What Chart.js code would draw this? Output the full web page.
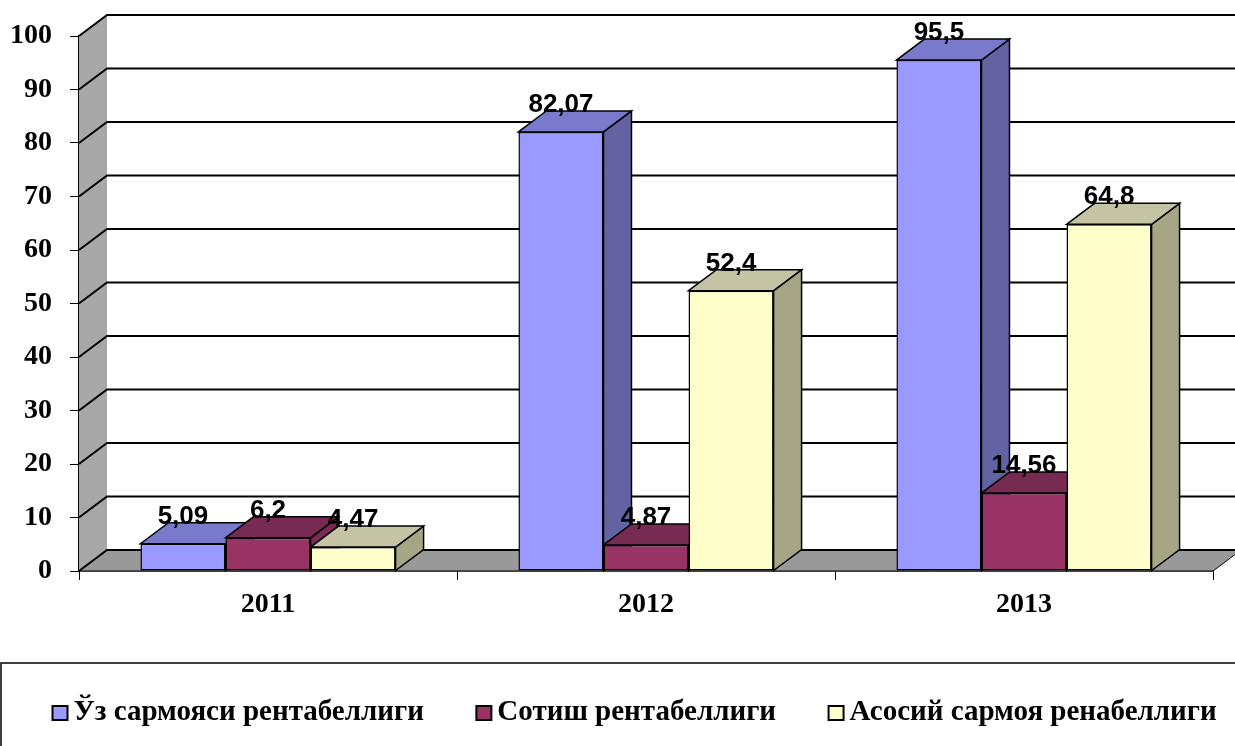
<!DOCTYPE html>
<html>
<head>
<meta charset="utf-8">
<script src="https://cdn.jsdelivr.net/npm/chart.js@4"></script>
<style>
  body { margin: 0; background: #fff; }
  canvas { display: block; }
</style>
</head>
<body>
<canvas id="rentChart" width="1235" height="746"></canvas>
<script>
const years = ["2011", "2012", "2013"];
const ownCapital = [5.09, 82.07, 95.5];
const sales = [6.2, 4.87, 14.56];
const fixedCapital = [4.47, 52.4, 64.8];
const seriesNames = ["Ўз сармояси рентабеллиги", "Сотиш рентабеллиги", "Асосий сармоя ренабеллиги"];

const frontColors = ["#9999ff", "#993366", "#ffffcc"];
const topColors = ["#7a7acc", "#772a52", "#c4c4a4"];
const sideColors = ["#6363a3", "#772a52", "#a6a686"];

const DX = 28, DY = -21;

// legend marker: small square drawn on the right of a wider image,
// so it sits close to the text
function legendMarker(color) {
  const c = document.createElement("canvas");
  c.width = 64; c.height = 16;
  const g = c.getContext("2d");
  g.fillStyle = color;
  g.strokeStyle = "#000";
  g.lineWidth = 2;
  g.fillRect(46, 1, 15, 14);
  g.strokeRect(46, 1, 15, 14);
  return c;
}

// fake 3d: walls, floor, back gridlines and bar sides drawn under the bar fronts
const depthPlugin = {
  id: "depth",
  beforeDatasetsDraw(chart) {
    const ctx = chart.ctx;
    const area = chart.chartArea;
    const y = chart.scales.y;
    const L = area.left, R = area.right, B = area.bottom, T = area.top;
    ctx.save();
    ctx.fillStyle = "#a8a8a8";
    ctx.beginPath();
    ctx.moveTo(L, B); ctx.lineTo(L, T); ctx.lineTo(L + DX, T + DY); ctx.lineTo(L + DX, B + DY);
    ctx.closePath(); ctx.fill();
    ctx.fillStyle = "#999999";
    ctx.strokeStyle = "#000";
    ctx.lineWidth = 1;
    ctx.beginPath();
    ctx.moveTo(L, B); ctx.lineTo(L + DX, B + DY); ctx.lineTo(R + DX, B + DY); ctx.lineTo(R, B);
    ctx.closePath(); ctx.fill(); ctx.stroke();
    ctx.lineWidth = 2;
    y.ticks.forEach(t => {
      const py = y.getPixelForValue(t.value);
      ctx.beginPath();
      ctx.moveTo(L, py); ctx.lineTo(L + DX, py + DY); ctx.lineTo(chart.width, py + DY);
      ctx.stroke();
    });
    ctx.lineWidth = 1.5;
    chart.data.datasets.forEach((ds, i) => {
      chart.getDatasetMeta(i).data.forEach(bar => {
        const l = bar.x - bar.width / 2, r = bar.x + bar.width / 2;
        const top = bar.y, bot = bar.base;
        ctx.fillStyle = sideColors[i];
        ctx.beginPath();
        ctx.moveTo(r, top); ctx.lineTo(r + DX, top + DY); ctx.lineTo(r + DX, bot + DY); ctx.lineTo(r, bot);
        ctx.closePath(); ctx.fill(); ctx.stroke();
        ctx.fillStyle = topColors[i];
        ctx.beginPath();
        ctx.moveTo(l, top); ctx.lineTo(l + DX, top + DY); ctx.lineTo(r + DX, top + DY); ctx.lineTo(r, top);
        ctx.closePath(); ctx.fill(); ctx.stroke();
      });
    });
    ctx.restore();
  },
  afterDatasetsDraw(chart) {
    const ctx = chart.ctx;
    ctx.save();
    ctx.font = "bold 26px 'Liberation Sans', Arial, sans-serif";
    ctx.fillStyle = "#000";
    ctx.textAlign = "center";
    ctx.textBaseline = "middle";
    chart.data.datasets.forEach((ds, i) => {
      chart.getDatasetMeta(i).data.forEach((bar, j) => {
        ctx.fillText(String(ds.data[j]).replace(".", ","), bar.x, bar.y - 27);
      });
    });
    ctx.restore();
  },
  afterDraw(chart) {
    const ctx = chart.ctx;
    ctx.save();
    ctx.strokeStyle = "#000";
    ctx.lineWidth = 1.5;
    ctx.strokeRect(1, chart.chartArea.bottom + 92, chart.width + 10, 200);
    ctx.restore();
  }
};

new Chart(document.getElementById("rentChart"), {
  type: "bar",
  data: {
    labels: years,
    datasets: [
      { label: seriesNames[0], data: ownCapital, backgroundColor: frontColors[0] },
      { label: seriesNames[1], data: sales, backgroundColor: frontColors[1] },
      { label: seriesNames[2], data: fixedCapital, backgroundColor: frontColors[2] }
    ]
  },
  options: {
    responsive: false,
    animation: false,
    layout: { padding: { top: 36, right: 0, left: 0, bottom: 8.5 } },
    datasets: {
      bar: {
        categoryPercentage: 0.675,
        barPercentage: 1,
        borderColor: "#000",
        borderWidth: 1.5,
        borderSkipped: false
      }
    },
    scales: {
      x: {
        grid: { offset: true, drawOnChartArea: false, tickLength: 9, color: "#000", lineWidth: 1 },
        border: { color: "#000", width: 1.5 },
        ticks: { color: "#000", padding: 8, font: { family: "'Liberation Serif', 'Times New Roman', serif", size: 28, weight: "bold" } },
        afterFit(scale) { scale.height = 109.5; }
      },
      y: {
        min: 0,
        max: 100,
        grid: { drawOnChartArea: false, tickLength: 9, color: "#000", lineWidth: 1 },
        border: { color: "#000", width: 1.5 },
        ticks: { stepSize: 10, color: "#000", padding: 18, font: { family: "'Liberation Serif', 'Times New Roman', serif", size: 28, weight: "bold" } },
        afterFit(scale) { scale.width = 79; }
      },
      // empty right axis, only keeps room for the 3d depth on the right
      depthSpace: {
        type: "linear",
        position: "right",
        grid: { display: false },
        border: { display: false },
        ticks: { display: false },
        afterFit(scale) { scale.width = 22; }
      }
    },
    plugins: {
      legend: {
        position: "bottom",
        align: "start",
        labels: {
          usePointStyle: true,
          pointStyleWidth: 41,
          padding: 18,
          color: "#000",
          font: { family: "'Liberation Serif', 'Times New Roman', serif", size: 29, weight: "bold" },
          generateLabels(chart) {
            return chart.data.datasets.map((ds, i) => ({
              text: ds.label,
              pointStyle: legendMarker(frontColors[i]),
              fillStyle: frontColors[i],
              strokeStyle: "#000",
              lineWidth: 0,
              datasetIndex: i
            }));
          }
        }
      },
      tooltip: { enabled: false }
    }
  },
  plugins: [depthPlugin]
});
</script>
</body>
</html>
